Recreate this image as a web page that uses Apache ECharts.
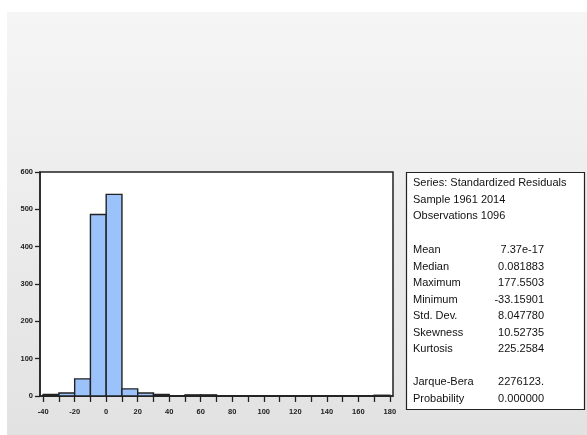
<!DOCTYPE html>
<html><head><meta charset="utf-8">
<script src="https://cdn.jsdelivr.net/npm/echarts@6/dist/echarts.min.js"></script>
<style>html,body{margin:0;padding:0;background:#fff}#c{width:587px;height:435px}</style>
</head><body><div id="c"></div>
<script>
// Histogram bins (lower edges, width 10) and counts
const binStarts = [-40,-30,-20,-10,0,10,20,30,40,50,60,70,80,90,100,110,120,130,140,150,160,170];
const binCounts = [4,8,46,486,540,19,8,4,0,3,3,0,0,0,0,0,0,0,0,0,0,2];
const binWidth = 10;
const xTickValues = [-40,-30,-20,-10,0,10,20,30,40,50,60,70,80,90,100,110,120,130,140,150,160,170,180];
const xLabelValues = [-40,-20,0,20,40,60,80,100,120,140,160,180];
const yTicks = [0,100,200,300,400,500,600];
// Statistics panel
const headerLines = ['Series: Standardized Residuals','Sample 1961 2014','Observations 1096'];
const statNames = ['Mean','Median','Maximum','Minimum','Std. Dev.','Skewness','Kurtosis'];
const statValues = ['7.37e-17','0.081883','177.5503','-33.15901','8.047780','10.52735','225.2584'];
const testNames = ['Jarque-Bera','Probability'];
const testValues = ['2276123.','0.000000'];

const data = binStarts.map((s,i)=>[s, s+binWidth, binCounts[i]]);
const chart = echarts.init(document.getElementById('c'), null, {renderer:'canvas'});
const font = 'Liberation Sans, Arial, sans-serif';
const lineH = 16.5;
const textEls = [];
function addLine(txt, x, y, align){
  textEls.push({type:'text', z:20, style:{text:txt, x:x, y:y, fill:'#111', font:'11px '+font, textAlign:align||'left', textVerticalAlign:'middle'}});
}
let y0 = 183;
headerLines.forEach((t,i)=>addLine(t,413,y0+i*lineH));
let y1 = 250;
statNames.forEach((t,i)=>{addLine(t,413,y1+i*lineH); addLine(statValues[i],544,y1+i*lineH,'right');});
let y2 = 382;
testNames.forEach((t,i)=>{addLine(t,413,y2+i*lineH); addLine(testValues[i],544,y2+i*lineH,'right');});

chart.setOption({
  animation:false,
  backgroundColor:'#ffffff',
  graphic:[
    {type:'rect', z:-10, silent:true, shape:{x:7,y:12,width:580,height:423},
     style:{fill:new echarts.graphic.LinearGradient(0,0,0,1,[{offset:0,color:'#f5f5f5'},{offset:1,color:'#e2e2e2'}])}},
    {type:'rect', z:15, shape:{x:406.5,y:172.5,width:178,height:237},
     style:{fill:'#ffffff', stroke:'#222', lineWidth:1.2}}
  ].concat(textEls),
  grid:{left:40, top:172, width:353, height:224, show:true, backgroundColor:'#ffffff', borderColor:'#222', borderWidth:1.5},
  xAxis:{type:'value', min:-42, max:182,
    axisLine:{show:true, onZero:false, lineStyle:{color:'#222', width:1.5}},
    axisTick:{show:true, inside:false, length:6, customValues:xTickValues, lineStyle:{color:'#222', width:1.3}},
    axisLabel:{show:true, customValues:xLabelValues, fontSize:7.5, fontWeight:'bold', color:'#222', margin:12, fontFamily:font},
    splitLine:{show:false}},
  yAxis:{type:'value', min:0, max:600, interval:100,
    axisLine:{show:true, onZero:false, lineStyle:{color:'#222', width:1.5}},
    axisTick:{show:true, length:5, lineStyle:{color:'#222', width:1.3}},
    axisLabel:{fontSize:7.5, fontWeight:'bold', color:'#222', margin:7, fontFamily:font},
    splitLine:{show:false}},
  series:[{
    type:'custom',
    data:data,
    encode:{x:[0,1], y:2},
    renderItem:function(params, api){
      const p1 = api.coord([api.value(0), api.value(2)]);
      const p2 = api.coord([api.value(1), 0]);
      return {type:'rect', shape:{x:p1[0], y:p1[1], width:p2[0]-p1[0], height:p2[1]-p1[1]},
        style:{fill:'#9cc2fb', stroke:'#222', lineWidth:1.4}};
    }
  }]
});
</script></body></html>
